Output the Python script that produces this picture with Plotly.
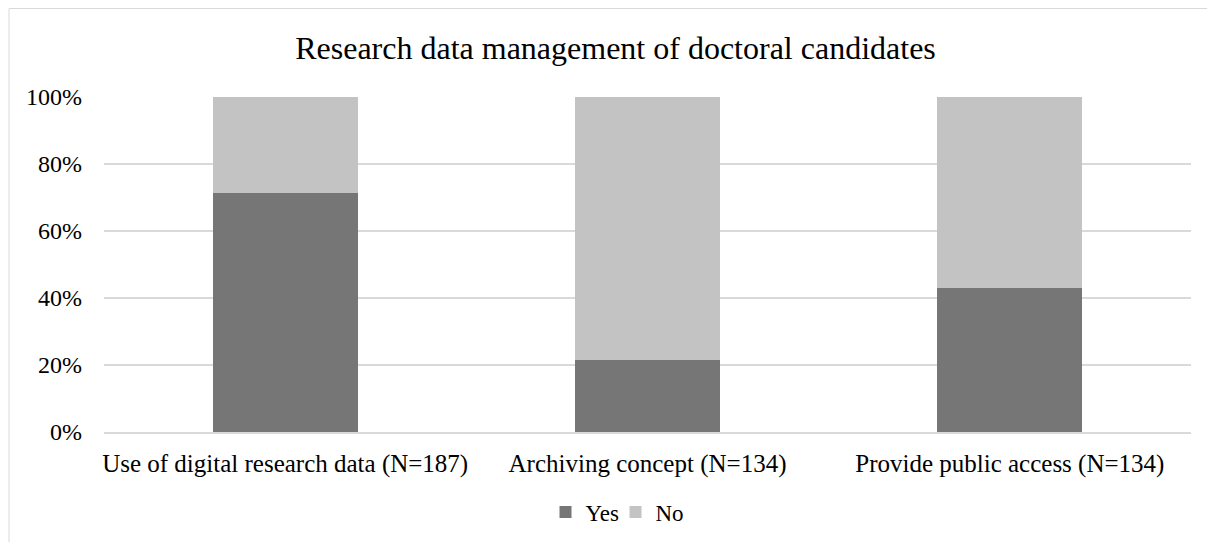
import plotly.graph_objects as go

categories = ["Use of digital research data (N=187)", "Archiving concept (N=134)", "Provide public access (N=134)"]
yes_vals = [71.4, 21.5, 43.1]
no_vals = [28.6, 78.5, 56.9]
series_names = ["Yes", "No"]
colors = ["#767676", "#C3C3C3"]
tick_vals = [0, 20, 40, 60, 80, 100]
tick_text = ["0%", "20%", "40%", "60%", "80%", "100%"]

FONT = "Liberation Serif, Times New Roman, serif"

fig = go.Figure()
for name, vals, col in zip(series_names, [yes_vals, no_vals], colors):
    fig.add_trace(go.Bar(x=categories, y=vals, name=name, marker=dict(color=col, line=dict(width=0))))

H = 542
PW = 1087
fig.update_layout(
    barmode="stack",
    bargap=0.6,
    width=1215, height=H,
    margin=dict(l=96, r=32, t=89, b=118, autoexpand=False),
    paper_bgcolor="white", plot_bgcolor="white",
    font=dict(family=FONT, size=24, color="#000000"),
    title=dict(text="Research data management of doctoral candidates", x=0.5, xanchor="center",
               xref="container", y=1 - 40 / H, yanchor="middle", font=dict(family=FONT, size=32, color="#000000")),
    legend=dict(orientation="h", x=(607.5 - 96) / PW, xanchor="center", y=-(504 - 424) / 335, yanchor="middle",
                font=dict(family=FONT, size=23), itemwidth=30, entrywidth=25, traceorder="normal"),
    showlegend=True,
)
fig.update_yaxes(range=[0, 100], tickvals=tick_vals, ticktext=tick_text, showgrid=True,
                 gridcolor="#D9D9D9", gridwidth=1.5, zeroline=False, ticks="", showline=False,
                 automargin=False, ticklabelstandoff=21, tickfont=dict(family=FONT, size=24))
fig.update_xaxes(showline=True, linecolor="#D9D9D9", linewidth=1.5, ticks="", tickangle=0,
                 automargin=False, ticklabelstandoff=8, tickfont=dict(family=FONT, size=25))
fig.add_shape(type="rect", xref="paper", yref="paper", x0=-95 / PW, x1=1.1, y0=-0.6, y1=1 + 88.5 / 335,
              line=dict(color="#D9D9D9", width=1), layer="below")

fig.write_html("out.html")
